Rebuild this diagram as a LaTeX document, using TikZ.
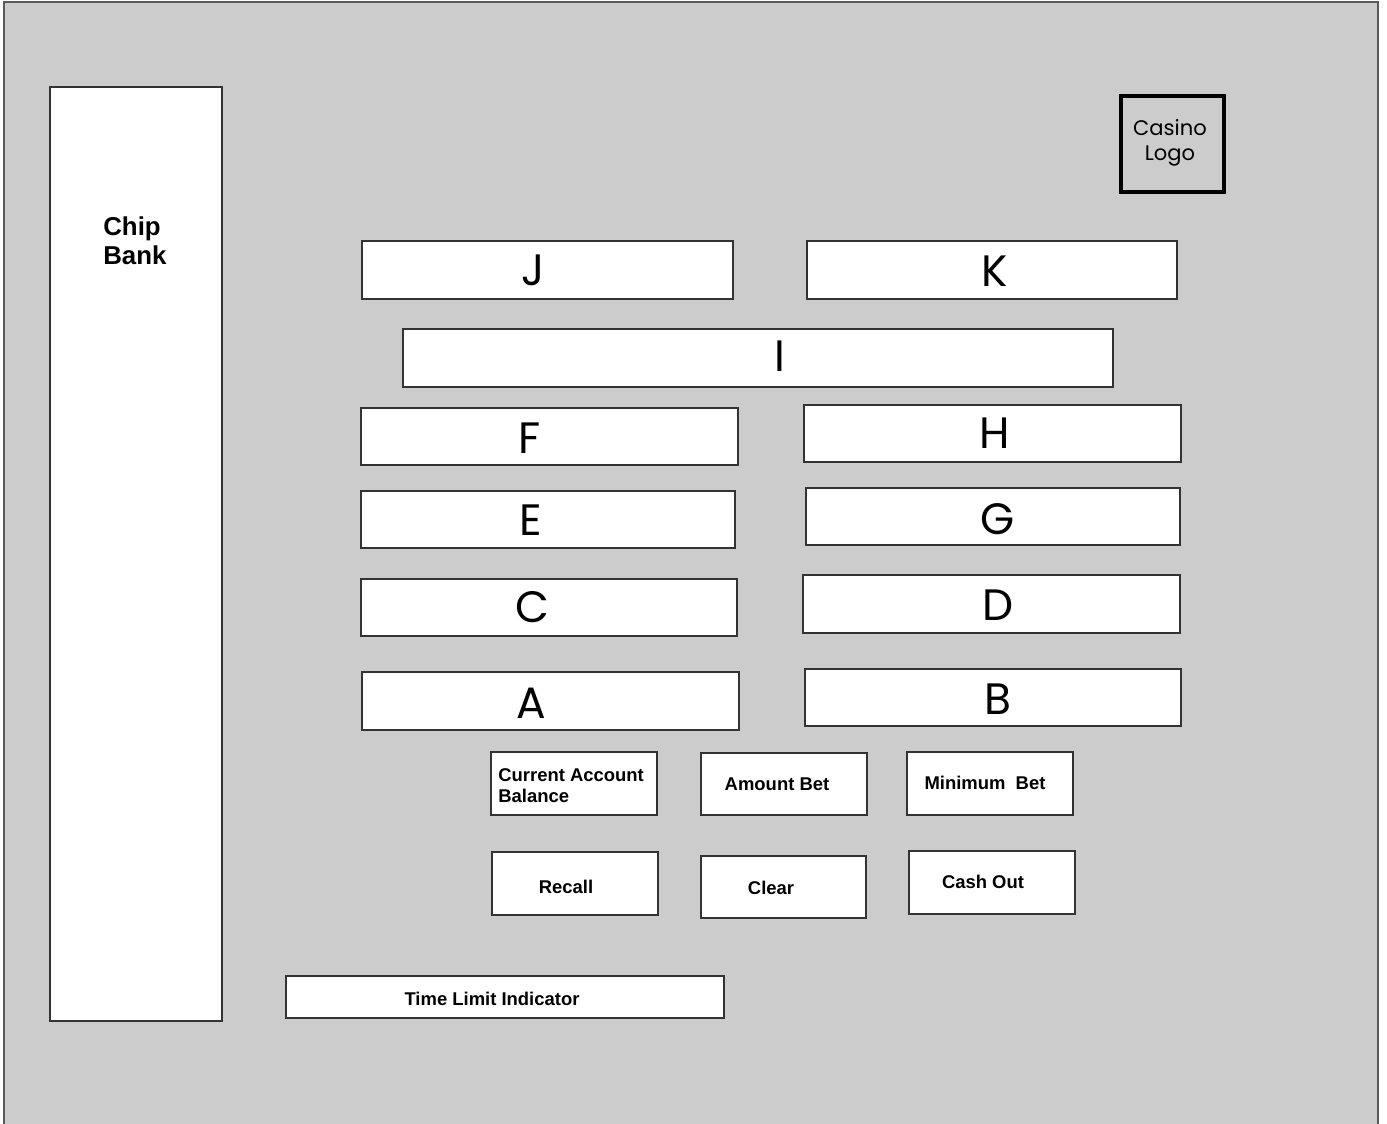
\documentclass[tikz,border=0pt]{standalone}
\usepackage{fontspec}
\setmainfont{Liberation Sans}
\newfontfamily\gothic{Poppins}

\begin{document}
\begin{tikzpicture}[x=0.02cm, y=-0.02cm,
  panel/.style={draw=black!80, line width=0.6pt, fill=white},
  letter/.style={font=\gothic\fontsize{25}{30}\selectfont, inner sep=0pt},
  btnlabel/.style={font=\bfseries\fontsize{10.5}{12}\selectfont, inner sep=0pt}]

\useasboundingbox (0,0) rectangle (1387,1124);

% Screen
\fill[black!20] (4,2) rectangle (1378,1124);
\draw[black!65, line width=1pt] (4,1124) -- (4,2) -- (1378,2) -- (1378,1124);

% Chip bank
\draw[panel] (50,87) rectangle (222,1021);
\node[font=\bfseries\fontsize{14.7}{17}\selectfont, align=left, anchor=north west, inner sep=0pt] (chipbank) at (103,216) {Chip\\Bank};

% Logo
\draw[line width=2.4pt] (1121,96) rectangle (1224,192);
\node[font=\gothic\fontsize{12}{14}\selectfont, align=center, inner sep=0pt] (logo) at (1170,143) {Casino\\Logo};

% Bet slots
\foreach \xa/\ya/\xb/\yb/\tx/\ty/\name in {
    362/241/733/299/533/270/J, 807/241/1177/299/995/271/K,
    403/329/1113/387/780/356/I,
    361/408/738/465/530/438/F, 804/405/1181/462/995/433/H,
    361/491/735/548/531/520/E, 806/488/1180/545/998/519/G,
    361/579/737/636/532/607/C, 803/575/1180/633/998/605/D,
    362/672/739/730/531/703/A, 805/669/1181/726/998/699/B}
{
    \draw[panel] (\xa,\ya) rectangle (\xb,\yb);
    \node[letter] (\name) at (\tx,\ty) {\name};
}

% Buttons
\foreach \xa/\ya/\xb/\yb in {491/752/657/815, 701/753/867/815, 907/752/1073/815,
    492/852/658/915, 701/856/866/918, 909/851/1075/914, 286/976/724/1018}
    \draw[panel] (\xa,\ya) rectangle (\xb,\yb);

\node[btnlabel, align=left, anchor=west] (balance) at (498,786) {Current Account\\Balance};
\node[btnlabel] (amount) at (777,784) {Amount Bet};
\node[btnlabel] (minimum) at (985,783) {Minimum\ \ Bet};
\node[btnlabel] (recall) at (566,887) {Recall};
\node[btnlabel] (clear) at (771,888) {Clear};
\node[btnlabel] (cashout) at (983,882) {Cash Out};
\node[btnlabel] (timer) at (492,999) {Time Limit Indicator};

\end{tikzpicture}
\end{document}
